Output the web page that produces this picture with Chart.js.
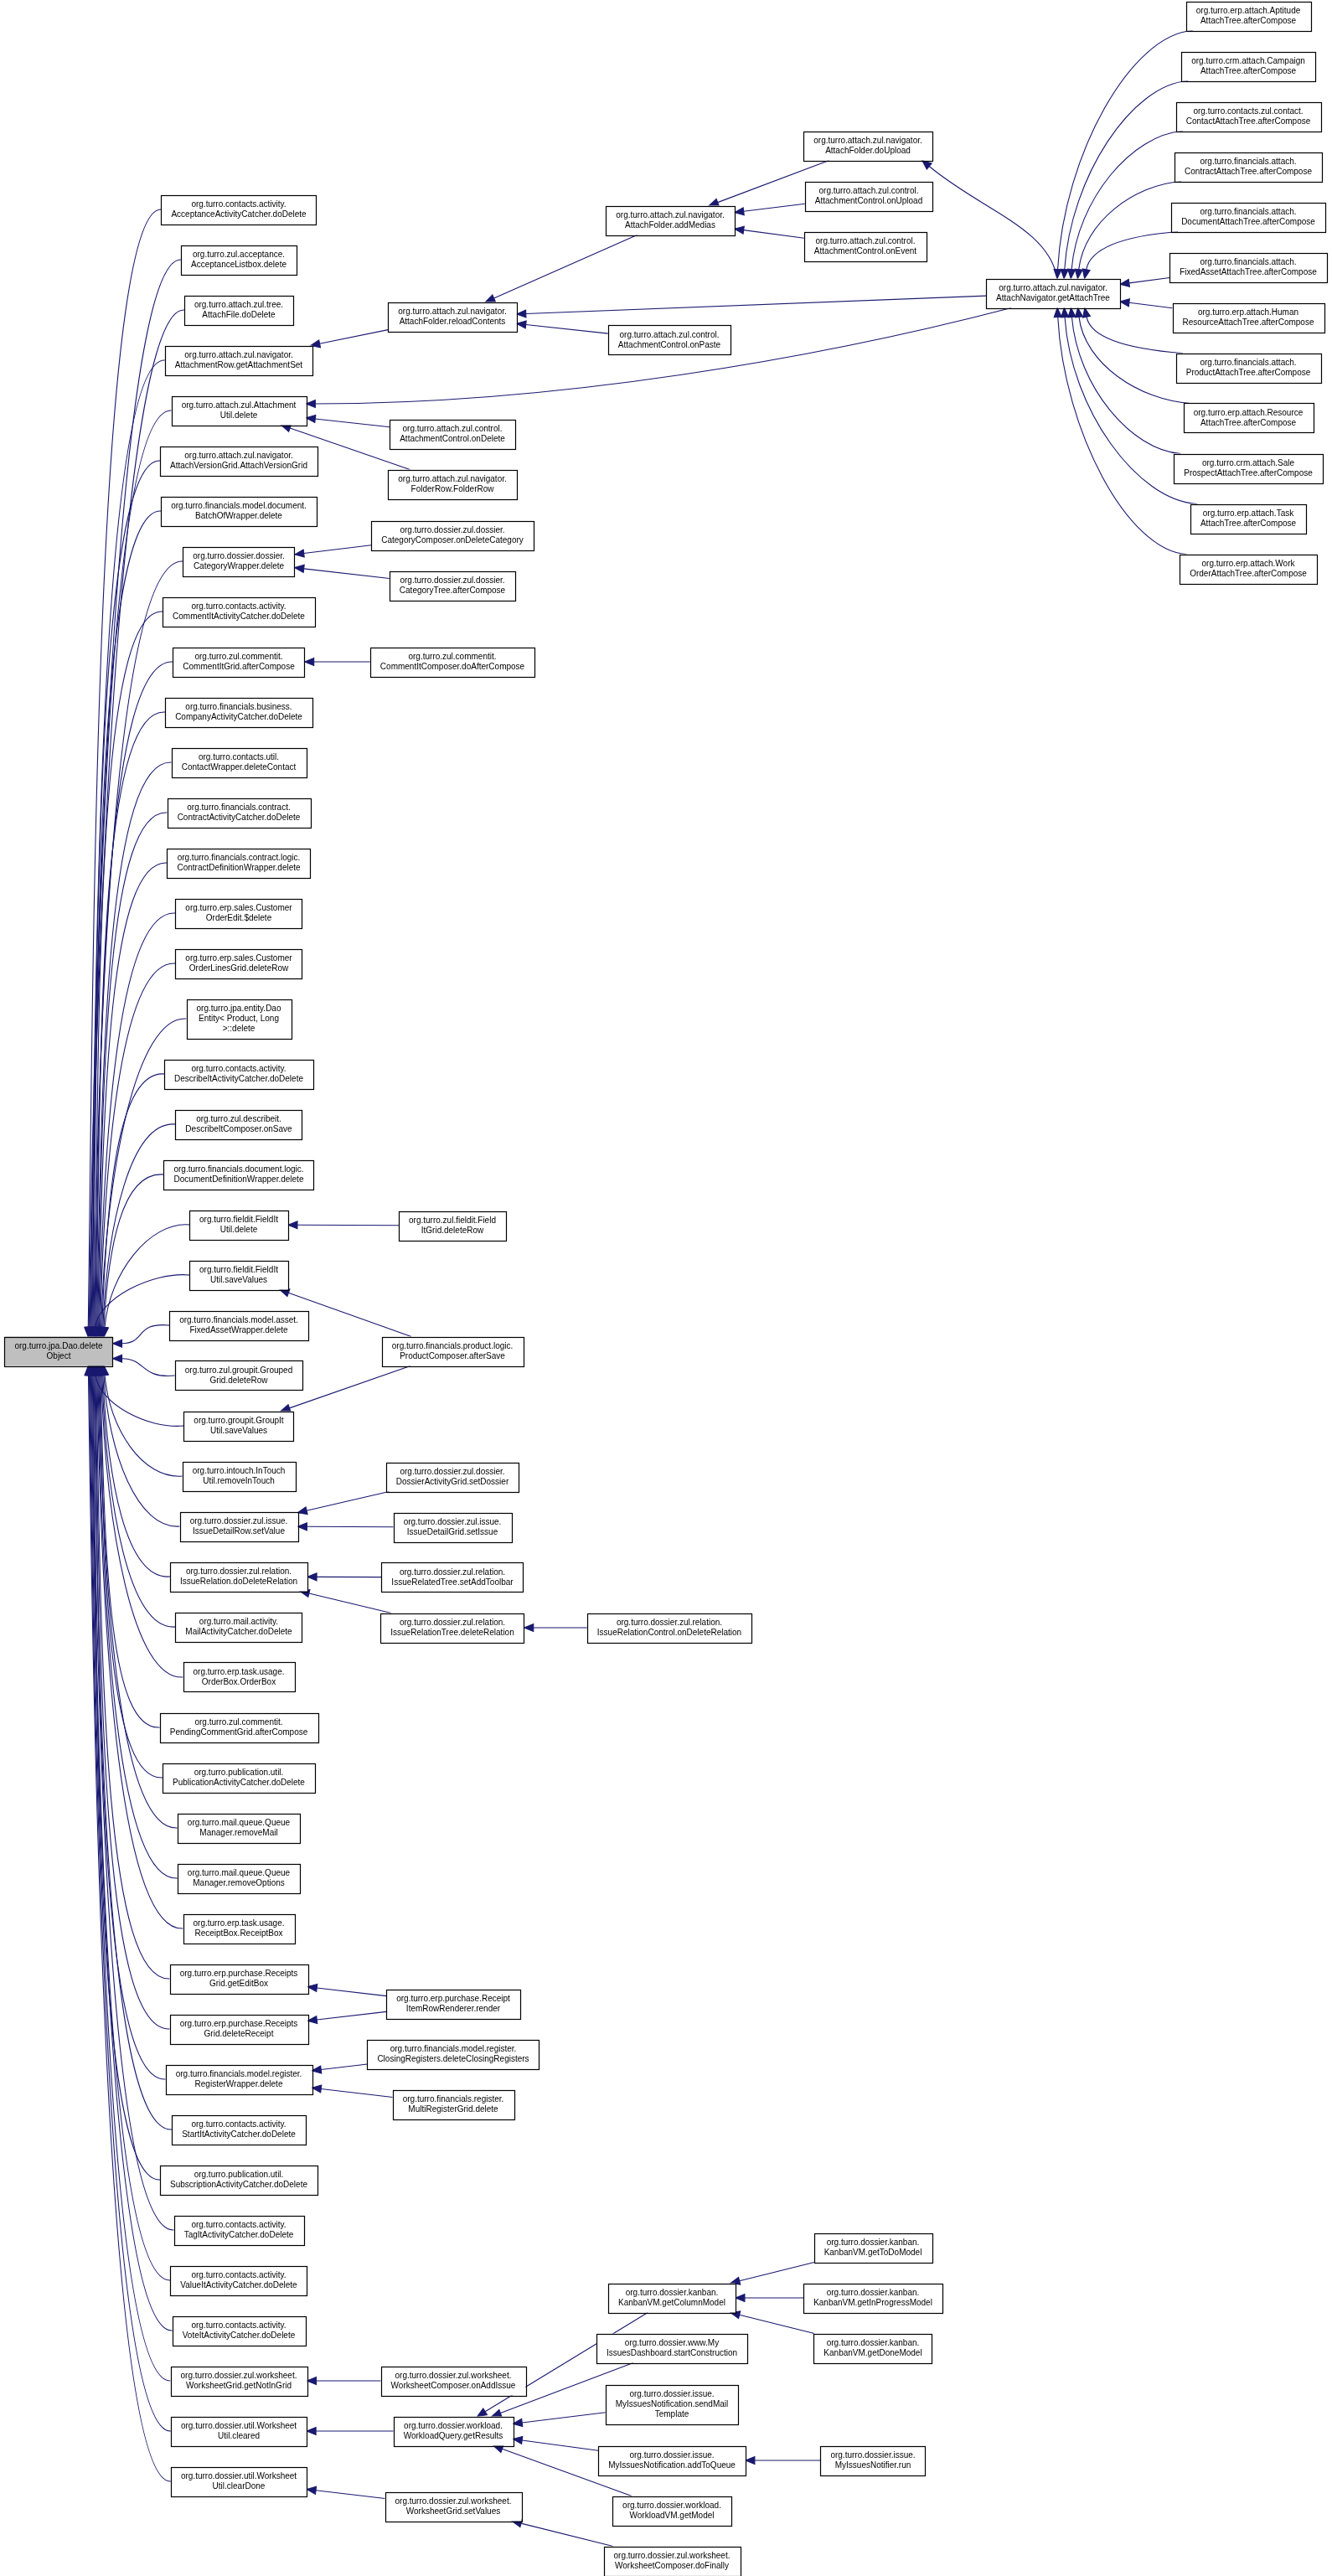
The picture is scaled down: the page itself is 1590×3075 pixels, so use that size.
<!DOCTYPE html>
<html><head><meta charset="utf-8">
<script src="https://cdn.jsdelivr.net/npm/chart.js@4/dist/chart.umd.min.js"></script>
<style>html,body{margin:0;padding:0;background:#fff}#wrap{width:1590px;height:3075px}</style>
</head><body><div id="wrap"><canvas id="c" width="1590" height="3075"></canvas></div>
<script>
// ---- data ----
const nodeLabels = [
"org.turro.jpa.Dao.delete|Object",
"org.turro.contacts.activity.|AcceptanceActivityCatcher.doDelete",
"org.turro.zul.acceptance.|AcceptanceListbox.delete",
"org.turro.attach.zul.tree.|AttachFile.doDelete",
"org.turro.attach.zul.navigator.|AttachmentRow.getAttachmentSet",
"org.turro.attach.zul.Attachment|Util.delete",
"org.turro.attach.zul.navigator.|AttachVersionGrid.AttachVersionGrid",
"org.turro.financials.model.document.|BatchOfWrapper.delete",
"org.turro.dossier.dossier.|CategoryWrapper.delete",
"org.turro.contacts.activity.|CommentItActivityCatcher.doDelete",
"org.turro.zul.commentit.|CommentItGrid.afterCompose",
"org.turro.financials.business.|CompanyActivityCatcher.doDelete",
"org.turro.contacts.util.|ContactWrapper.deleteContact",
"org.turro.financials.contract.|ContractActivityCatcher.doDelete",
"org.turro.financials.contract.logic.|ContractDefinitionWrapper.delete",
"org.turro.erp.sales.Customer|OrderEdit.$delete",
"org.turro.erp.sales.Customer|OrderLinesGrid.deleteRow",
"org.turro.jpa.entity.Dao|Entity< Product, Long|>::delete",
"org.turro.contacts.activity.|DescribeItActivityCatcher.doDelete",
"org.turro.zul.describeit.|DescribeItComposer.onSave",
"org.turro.financials.document.logic.|DocumentDefinitionWrapper.delete",
"org.turro.fieldit.FieldIt|Util.delete",
"org.turro.fieldit.FieldIt|Util.saveValues",
"org.turro.financials.model.asset.|FixedAssetWrapper.delete",
"org.turro.zul.groupit.Grouped|Grid.deleteRow",
"org.turro.groupit.GroupIt|Util.saveValues",
"org.turro.intouch.InTouch|Util.removeInTouch",
"org.turro.dossier.zul.issue.|IssueDetailRow.setValue",
"org.turro.dossier.zul.relation.|IssueRelation.doDeleteRelation",
"org.turro.mail.activity.|MailActivityCatcher.doDelete",
"org.turro.erp.task.usage.|OrderBox.OrderBox",
"org.turro.zul.commentit.|PendingCommentGrid.afterCompose",
"org.turro.publication.util.|PublicationActivityCatcher.doDelete",
"org.turro.mail.queue.Queue|Manager.removeMail",
"org.turro.mail.queue.Queue|Manager.removeOptions",
"org.turro.erp.task.usage.|ReceiptBox.ReceiptBox",
"org.turro.erp.purchase.Receipts|Grid.getEditBox",
"org.turro.erp.purchase.Receipts|Grid.deleteReceipt",
"org.turro.financials.model.register.|RegisterWrapper.delete",
"org.turro.contacts.activity.|StartItActivityCatcher.doDelete",
"org.turro.publication.util.|SubscriptionActivityCatcher.doDelete",
"org.turro.contacts.activity.|TagItActivityCatcher.doDelete",
"org.turro.contacts.activity.|ValueItActivityCatcher.doDelete",
"org.turro.contacts.activity.|VoteItActivityCatcher.doDelete",
"org.turro.dossier.zul.worksheet.|WorksheetGrid.getNotInGrid",
"org.turro.dossier.util.Worksheet|Util.cleared",
"org.turro.dossier.util.Worksheet|Util.clearDone",
"org.turro.attach.zul.navigator.|AttachFolder.reloadContents",
"org.turro.attach.zul.control.|AttachmentControl.onPaste",
"org.turro.attach.zul.navigator.|AttachFolder.addMedias",
"org.turro.attach.zul.navigator.|AttachFolder.doUpload",
"org.turro.attach.zul.control.|AttachmentControl.onUpload",
"org.turro.attach.zul.control.|AttachmentControl.onEvent",
"org.turro.attach.zul.navigator.|AttachNavigator.getAttachTree",
"org.turro.erp.attach.Aptitude|AttachTree.afterCompose",
"org.turro.crm.attach.Campaign|AttachTree.afterCompose",
"org.turro.contacts.zul.contact.|ContactAttachTree.afterCompose",
"org.turro.financials.attach.|ContractAttachTree.afterCompose",
"org.turro.financials.attach.|DocumentAttachTree.afterCompose",
"org.turro.financials.attach.|FixedAssetAttachTree.afterCompose",
"org.turro.erp.attach.Human|ResourceAttachTree.afterCompose",
"org.turro.financials.attach.|ProductAttachTree.afterCompose",
"org.turro.erp.attach.Resource|AttachTree.afterCompose",
"org.turro.crm.attach.Sale|ProspectAttachTree.afterCompose",
"org.turro.erp.attach.Task|AttachTree.afterCompose",
"org.turro.erp.attach.Work|OrderAttachTree.afterCompose",
"org.turro.attach.zul.control.|AttachmentControl.onDelete",
"org.turro.attach.zul.navigator.|FolderRow.FolderRow",
"org.turro.dossier.zul.dossier.|CategoryComposer.onDeleteCategory",
"org.turro.dossier.zul.dossier.|CategoryTree.afterCompose",
"org.turro.zul.commentit.|CommentItComposer.doAfterCompose",
"org.turro.zul.fieldit.Field|ItGrid.deleteRow",
"org.turro.financials.product.logic.|ProductComposer.afterSave",
"org.turro.dossier.zul.dossier.|DossierActivityGrid.setDossier",
"org.turro.dossier.zul.issue.|IssueDetailGrid.setIssue",
"org.turro.dossier.zul.relation.|IssueRelatedTree.setAddToolbar",
"org.turro.dossier.zul.relation.|IssueRelationTree.deleteRelation",
"org.turro.dossier.zul.relation.|IssueRelationControl.onDeleteRelation",
"org.turro.erp.purchase.Receipt|ItemRowRenderer.render",
"org.turro.financials.model.register.|ClosingRegisters.deleteClosingRegisters",
"org.turro.financials.register.|MultiRegisterGrid.delete",
"org.turro.dossier.zul.worksheet.|WorksheetComposer.onAddIssue",
"org.turro.dossier.workload.|WorkloadQuery.getResults",
"org.turro.dossier.zul.worksheet.|WorksheetGrid.setValues",
"org.turro.dossier.kanban.|KanbanVM.getColumnModel",
"org.turro.dossier.www.My|IssuesDashboard.startConstruction",
"org.turro.dossier.issue.|MyIssuesNotification.sendMail|Template",
"org.turro.dossier.issue.|MyIssuesNotification.addToQueue",
"org.turro.dossier.workload.|WorkloadVM.getModel",
"org.turro.dossier.zul.worksheet.|WorksheetComposer.doFinally",
"org.turro.dossier.kanban.|KanbanVM.getToDoModel",
"org.turro.dossier.kanban.|KanbanVM.getInProgressModel",
"org.turro.dossier.kanban.|KanbanVM.getDoneModel",
"org.turro.dossier.issue.|MyIssuesNotifier.run"
];
const nodeX = [70,
285,285,285,285,285,285,285,285,285,285,285,285,285,285,285,285,285,285,285,285,285,285,285,285,285,285,285,285,285,285,285,285,285,285,285,285,285,285,285,285,285,285,285,285,285,285,
540,799,800,1036,1037,1033,1257,
1490,1490,1490,1490,1490,1490,1490,1490,1490,1490,1490,1490,
540,540,540,540,540,540,540,540,540,540,540,799,541,541,541,541,541,541,
802,802,802,802,802,802,1042,1042,1042,1042];
const nodeY = [1613,
250,310,370,430,490,550,610,670,730,790,850,910,970,1030,1090,1150,1216,1282,1342,1402,1462,1522,1582,1642,1702,1762,1822,1882,1942,2002,2062,2122,2182,2242,2302,2362,2422,2482,2542,2602,2662,2722,2782,2842,2902,2962,
378,406,263,174,234,294,350,
19,79,139,199,259,319,379,439,499,559,619,679,
518,578,639,699,790,1463,1613,1763,1823,1883,1943,1943,2392,2452,2512,2842,2902,2992,
2743,2803,2870,2937,2997,3057,2683,2743,2803,2937];
// edges: caller -> callee
const edgeFrom = [1,2,3,4,5,6,7,8,9,10,11,12,13,14,15,16,17,18,19,20,21,22,23,24,25,26,27,28,29,30,31,32,33,34,35,36,37,38,39,40,41,42,43,44,45,46,
47,49,48,53,50,51,52,53,53,66,67,
54,55,56,57,58,59,60,61,62,63,64,65,
68,69,70,71,72,72,73,74,75,76,77,78,78,79,80,81,82,83,
84,85,86,87,88,90,91,92,93,89];
const edgeTo = [0,0,0,0,0,0,0,0,0,0,0,0,0,0,0,0,0,0,0,0,0,0,0,0,0,0,0,0,0,0,0,0,0,0,0,0,0,0,0,0,0,0,0,0,0,0,
4,47,47,47,49,49,49,50,5,5,5,
53,53,53,53,53,53,53,53,53,53,53,53,
8,8,10,21,22,25,27,27,28,28,76,36,37,38,38,44,45,46,
82,82,82,82,82,84,84,84,87,83];

// ---- drawing ----
const FONT = '10px "Liberation Sans", Arial, sans-serif';
const LINE = 12, EDGE = '#191970';
const boxes = [];
const graphPlugin = {
  id: 'graph',
  afterDatasetsDraw(chart) {
    const ctx = chart.ctx, xs = chart.scales.x, ys = chart.scales.y;
    ctx.save();
    ctx.font = FONT;
    nodeLabels.forEach((lab, i) => {
      const lines = lab.split('|');
      const w = Math.max(...lines.map(l => ctx.measureText(l).width)) + 24;
      const h = lines.length * LINE + 11;
      const cx = xs.getPixelForValue(nodeX[i]), cy = ys.getPixelForValue(nodeY[i]);
      boxes[i] = {cx, cy, w, h, l: cx - w/2, r: cx + w/2, t: cy - h/2, b: cy + h/2, lines};
    });
    function arrow(ex, ey, fx, fy) {
      const dx = ex - fx, dy = ey - fy, d = Math.hypot(dx, dy) || 1;
      const ux = dx/d, uy = dy/d, L = 11, W = 4.5;
      const bx = ex - ux*L, by = ey - uy*L;
      ctx.beginPath();
      ctx.moveTo(ex, ey); ctx.lineTo(bx - uy*W, by + ux*W); ctx.lineTo(bx + uy*W, by - ux*W);
      ctx.closePath(); ctx.fill(); ctx.stroke();
      return [bx, by];
    }
    function clip(b, px, py) {
      const dx = px - b.cx, dy = py - b.cy;
      const sx = dx ? (b.w/2)/Math.abs(dx) : Infinity, sy = dy ? (b.h/2)/Math.abs(dy) : Infinity;
      const s = Math.min(sx, sy);
      return [b.cx + dx*s, b.cy + dy*s];
    }
    function curve(sx, sy, c1x, c1y, c2x, c2y, ex, ey) {
      const dx = ex - c2x, dy = ey - c2y, d = Math.hypot(dx, dy) || 1;
      const bx = ex - dx/d*11, by = ey - dy/d*11;
      ctx.beginPath(); ctx.moveTo(sx, sy); ctx.bezierCurveTo(c1x, c1y, c2x, c2y, bx, by); ctx.stroke();
      arrow(ex, ey, c2x, c2y);
    }
    ctx.strokeStyle = EDGE; ctx.fillStyle = EDGE; ctx.lineWidth = 1.1;
    edgeFrom.forEach((f, k) => {
      const s = boxes[f], t = boxes[edgeTo[k]];
      const dy = s.cy - t.cy, sign = Math.sign(dy), ady = Math.abs(dy);
      if (edgeTo[k] === 0) {
        let ex, ey, c2x, c2y;
        if (ady < 45) { ex = t.r; ey = t.cy + dy*0.3; c2x = ex + 40; c2y = ey; }
        else {
          const a = Math.min(1, ady/1400);
          ex = t.r - 8 - 22*a; ey = sign > 0 ? t.b : t.t;
          if (ady < 130) ex = t.r - 30 + 25*(1-ady/130);
          c2x = ex + 6; c2y = ey + sign*Math.min(ady*0.5, 400);
        }
        curve(s.l, s.cy, s.l - 40 - Math.min(40, ady*0.05), s.cy + sign*4, c2x, c2y, ex, ey);
      } else if (edgeTo[k] === 53 && f >= 54 && ady > 45) {
        const a = Math.min(1, ady/330);
        const sx = s.l + 8, sy = sign > 0 ? s.t : s.b;
        const ex = t.cx + 5 + 45*(1-a), ey = sign > 0 ? t.b : t.t;
        curve(sx, sy, sx - (sx-ex)*0.45, sy - sign*4, ex + 8, ey + sign*ady*0.45, ex, ey);
      } else if (f === 53 && edgeTo[k] === 50) {
        const sx = t.r - 10, sy = t.b;
        curve(s.cx + 5, s.t, s.cx - 5, s.t - 60, t.r + 60, t.b + 60, t.r - 12, t.b);
      } else if (f === 53 && edgeTo[k] === 5) {
        curve(s.l + 30, s.b, s.l - 200, s.b + 60, t.r + 300, t.cy - 8, t.r, t.cy - 8);
      } else {
        const [sx, sy] = clip(s, t.cx, t.cy);
        const [ex, ey] = clip(t, s.cx, s.cy);
        const [bx, by] = arrow(ex, ey, sx, sy);
        ctx.beginPath(); ctx.moveTo(sx, sy); ctx.lineTo(bx, by); ctx.stroke();
      }
    });
    boxes.forEach((b, i) => {
      ctx.fillStyle = i === 0 ? '#bfbfbf' : '#ffffff';
      ctx.fillRect(b.l, b.t, b.w, b.h);
      ctx.strokeStyle = '#000'; ctx.lineWidth = 1.2;
      ctx.strokeRect(Math.round(b.l)+0.5, Math.round(b.t)+0.5, Math.round(b.w), Math.round(b.h));
      ctx.fillStyle = '#000'; ctx.textAlign = 'center'; ctx.textBaseline = 'middle';
      b.lines.forEach((l, j) => ctx.fillText(l, b.cx, b.cy + (j - (b.lines.length-1)/2)*LINE));
    });
    ctx.restore();
  }
};
new Chart(document.getElementById('c'), {
  type: 'scatter',
  data: { datasets: [{ data: nodeX.map((x, i) => ({x, y: nodeY[i]})), pointRadius: 0 }] },
  options: {
    responsive: false, animation: false, devicePixelRatio: 1,
    layout: { padding: 0 },
    plugins: { legend: { display: false }, tooltip: { enabled: false } },
    scales: {
      x: { type: 'linear', min: 0, max: 1590, display: false },
      y: { type: 'linear', min: 0, max: 3075, reverse: true, display: false }
    }
  },
  plugins: [graphPlugin]
});
</script></body></html>
